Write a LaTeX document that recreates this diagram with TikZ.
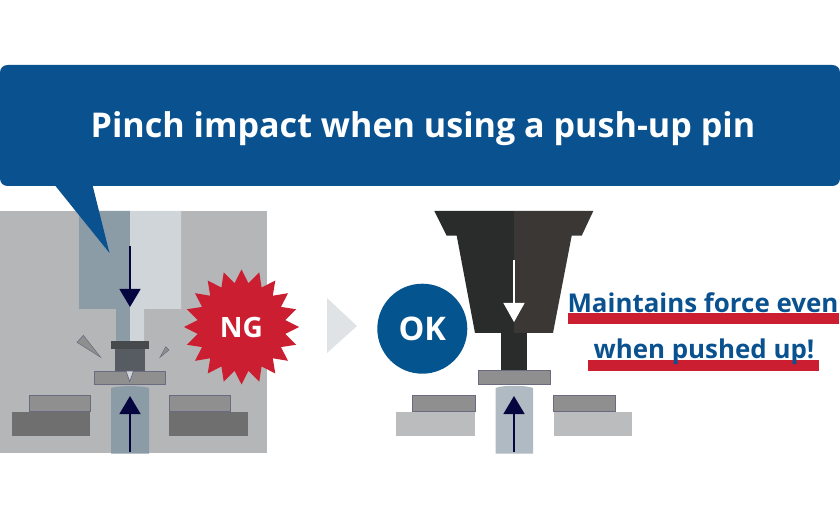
\documentclass[tikz,border=0pt]{standalone}
\usepackage{fontspec}
\setmainfont{Open Sans}
\usetikzlibrary{shapes.geometric,arrows.meta}
\definecolor{bluedeep}{HTML}{0A528F}
\definecolor{okblue}{HTML}{04558F}
\definecolor{redng}{HTML}{CC1E31}
\definecolor{bggray}{HTML}{B5B6B8}
\definecolor{pinblue}{HTML}{8B9CA6}
\definecolor{pinlight}{HTML}{AFBAC2}
\definecolor{punchlight}{HTML}{D0D5D9}
\definecolor{plategray}{HTML}{8F8F8F}
\definecolor{edgeviolet}{HTML}{6A6A80}
\definecolor{basedark}{HTML}{6F6F6F}
\definecolor{baselight}{HTML}{BBBCBE}
\definecolor{navyarrow}{HTML}{05053F}
\definecolor{tooldark}{HTML}{2A2C2C}
\definecolor{toolbrown}{HTML}{3A3735}
\definecolor{chevron}{HTML}{DFE3E6}
\definecolor{bodygray}{HTML}{565C62}
\definecolor{headgray}{HTML}{464A4D}
\tikzset{
  plate/.style={fill=plategray,draw=edgeviolet,line width=0.7pt},
  arrowdark/.style={draw=navyarrow,line width=1.5pt,-{Triangle[length=18pt,width=21pt,fill=navyarrow]}},
  arrowwhite/.style={draw=white,line width=1.2pt,-{Triangle[length=19pt,width=21pt,fill=white]}},
  headline/.style={text=white,font=\bfseries\fontsize{34.1}{34.1}\selectfont,anchor=base,inner sep=0pt},
  sidetext/.style={text=bluedeep,font=\bfseries\fontsize{25.9}{25.9}\selectfont,anchor=base,inner sep=0pt},
  badgeng/.style={text=white,font=\bfseries\fontsize{28}{28}\selectfont},
  badgeok/.style={text=white,font=\bfseries\fontsize{32.5}{32.5}\selectfont},
}
\begin{document}
\begin{tikzpicture}[x=1pt,y=-1pt]
\useasboundingbox (0,0) rectangle (840,518);
% left panel
\fill[bggray] (0,211) rectangle (267,453);
\fill[pinblue] (79,211) -- (130,211) -- (130,341) -- (116,341) -- (116,309) -- (79,309) -- cycle;
\fill[punchlight] (130,211) -- (181,211) -- (181,309) -- (144,309) -- (144,341) -- (130,341) -- cycle;
\fill[pinblue] (111,453.5) -- (111,388) .. controls (118,385.5) and (142,385.5) .. (149,388) -- (149,453.5) -- cycle;
\fill[basedark] (12,412) rectangle (90,436);
\fill[basedark] (169,412) rectangle (248,436);
\draw[plate] (29,395.5) rectangle (90.5,411.5);
\draw[plate] (169,395.5) rectangle (230.5,411.5);
\fill[bodygray] (115,349) rectangle (145,371);
\fill[headgray] (111,341) rectangle (149,349);
\draw[plate] (94.5,371) rectangle (165.5,384);
\fill[punchlight,draw=edgeviolet,line width=0.7pt] (126,371) -- (133.5,371) -- (129.7,381.5) -- cycle;
\fill[plategray,draw=edgeviolet,line width=0.5pt] (77,342.3) -- (83.3,335.3) -- (100.7,357.3) -- cycle;
\fill[plategray,draw=edgeviolet,line width=0.5pt] (160,357.3) -- (165.7,346.7) -- (169,350) -- cycle;
\coordinate (dnA) at (130,246);
\coordinate (dnB) at (130,307);
\coordinate (upA) at (130,452);
\coordinate (upB) at (130,396);
\draw[arrowdark] (dnA) -- (dnB);
\draw[arrowdark] (upA) -- (upB);
% callout
\fill[bluedeep] (8,65) -- (832,65) .. controls (837,65) and (840,68) .. (840,73) -- (840,178) .. controls (840,183) and (837,186) .. (832,186) -- (92.7,186) -- (109.5,253) -- (55.5,186) -- (8,186) .. controls (3,186) and (0,183) .. (0,178) -- (0,73) .. controls (0,68) and (3,65) .. (8,65) -- cycle;
\node[headline] (title) at (423,137.5) {Pinch impact when using a push-up pin};
% NG
\node[star,star points=20,star point ratio=1.3,fill=redng,minimum size=115pt,inner sep=0pt] (ng) at (241.5,327) {};
\node[badgeng] (ngt) at (241.5,327) {NG};
% chevron
\fill[chevron] (327,298) -- (357,326) -- (327,353) -- cycle;
% OK
\node[circle,fill=okblue,minimum size=90pt,inner sep=0pt,badgeok] (ok) at (422.3,328.7) {OK};
% right tool
\fill[tooldark] (434.3,211) -- (514,211) -- (514,333) -- (475,333) -- (456.7,235.7) -- (446.7,235.7) -- cycle;
\fill[toolbrown] (514,211) -- (593.3,211) -- (581.7,235.7) -- (571.7,235.7) -- (553,333) -- (514,333) -- cycle;
\fill[tooldark] (500.7,333) rectangle (527,370);
\coordinate (wA) at (514,260);
\coordinate (wB) at (514,322);
\draw[arrowwhite] (wA) -- (wB);
\draw[plate] (478,370.5) rectangle (550,384);
\fill[pinlight] (495.5,453.5) -- (495.5,388) .. controls (502,385) and (526,385) .. (533,388) -- (533,453.5) -- cycle;
\fill[baselight] (396,412) rectangle (475,436);
\fill[baselight] (553.5,412) rectangle (632,436);
\draw[plate] (412.7,395.5) rectangle (475,411.5);
\draw[plate] (553,395.5) rectangle (615,411.5);
\coordinate (okA) at (514,452);
\coordinate (okB) at (514,396);
\draw[arrowdark] (okA) -- (okB);
% side text
\fill[redng] (567.5,313) rectangle (839,324);
\fill[redng] (587.5,360) rectangle (818.5,371);
\node[sidetext] (l1) at (703,312.5) {Maintains force even};
\node[sidetext] (l2) at (704,358.5) {when pushed up!};
\end{tikzpicture}
\end{document}
